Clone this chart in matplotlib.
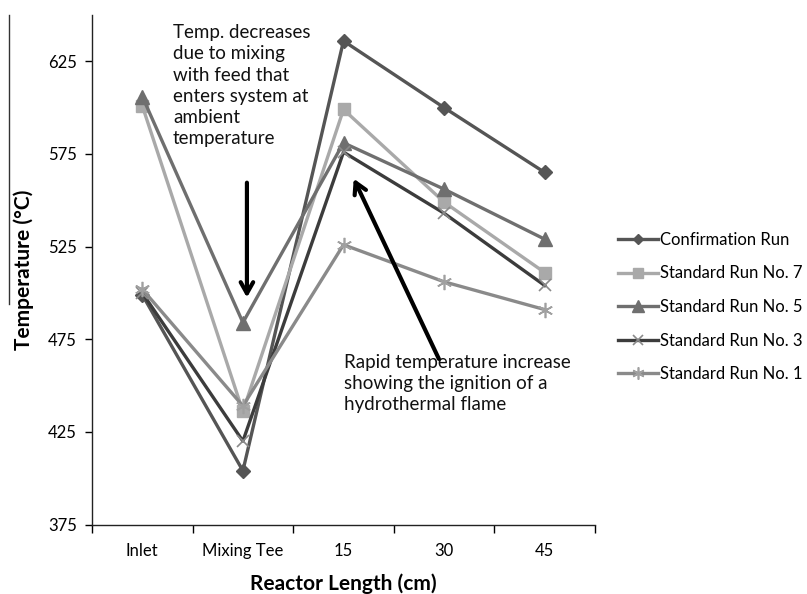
import matplotlib
matplotlib.use("Agg")
import matplotlib.pyplot as plt
from matplotlib.lines import Line2D

plt.rcParams['font.family'] = ['Lato', 'DejaVu Sans']

categories = ["Inlet", "Mixing Tee", "15", "30", "45"]
confirmation = [499, 404, 636, 600, 565]
run7 = [601, 436, 599, 549, 511]
run5 = [606, 484, 581, 556, 529]
run3 = [500, 420, 576, 543, 504]
run1 = [502, 439, 526, 506, 491]
series_names = ["Confirmation Run", "Standard Run No. 7", "Standard Run No. 5",
                "Standard Run No. 3", "Standard Run No. 1"]
yticks = [375, 425, 475, 525, 575, 625]

fig = plt.figure(figsize=(8.07, 5.94), dpi=100)
ax = fig.add_axes([92/807, 1-524.5/594, (595-92)/807, (524.5-15)/594])

x = list(range(len(categories)))
styles = [
    dict(color="#555555", marker="D", ms=7, mec="#555555", mfc="#555555", mew=1),
    dict(color="#a9a9a9", marker="s", ms=9, mec="#a9a9a9", mfc="#a9a9a9", mew=1),
    dict(color="#6f6f6f", marker="^", ms=10, mec="#6f6f6f", mfc="#6f6f6f", mew=1),
    dict(color="#3c3c3c", marker="x", ms=9, mec="#8a8a8a", mew=1.2),
    dict(color="#8a8a8a", marker=(6, 2, 0), ms=11, mec="#a0a0a0", mew=1.2),
]
for vals, name, st in zip([confirmation, run7, run5, run3, run1], series_names, styles):
    ax.plot(x, vals, lw=2.4, label=name, **st)

ax.set_xlim(-0.5, len(categories) - 0.5)
ax.set_ylim(375, 650)
ax.set_yticks(yticks)
ax.set_yticklabels([str(v) for v in yticks], fontsize=12)
ax.set_xticks([i - 0.5 for i in range(len(categories) + 1)])
ax.set_xticklabels([])
ax.set_xticks(x, minor=True)
ax.set_xticklabels(categories, minor=True, fontsize=12)
ax.tick_params(axis='x', which='major', length=6, direction='out', width=1)
ax.tick_params(axis='x', which='minor', length=0, pad=13)
ax.tick_params(axis='y', length=5, direction='out', width=1, pad=6)
for s in ['top', 'right']:
    ax.spines[s].set_visible(False)
for s in ['left', 'bottom']:
    ax.spines[s].set_color('#222222')
    ax.spines[s].set_linewidth(1.0)

ax.set_xlabel("Reactor Length (cm)", fontsize=15, fontweight='bold', labelpad=11)
ax.set_ylabel("Temperature (°C)", fontsize=15, fontweight='bold', labelpad=10)

ax.text(0.305, 645, "Temp. decreases\ndue to mixing\nwith feed that\nenters system at\nambient\ntemperature",
        fontsize=13.5, va='top', ha='left', linespacing=1.3, color='#111111')
ax.annotate("", xy=(1.04, 496), xytext=(1.04, 561),
            arrowprops=dict(arrowstyle='->,head_length=0.8,head_width=0.45', lw=3, color='black'))
ax.text(2.0, 467, "Rapid temperature increase\nshowing the ignition of a\nhydrothermal flame",
        fontsize=13.5, va='top', ha='left', linespacing=1.3, color='#111111')
ax.annotate("", xy=(2.09, 563), xytext=(2.96, 463),
            arrowprops=dict(arrowstyle='->,head_length=0.8,head_width=0.45', lw=3, color='black'))

leg = fig.legend(loc='center left', bbox_to_anchor=(603/807, 1-307/594), frameon=False,
                 fontsize=12, labelspacing=1.05, handlelength=2.4, handletextpad=0.15,
                 markerscale=0.8)

fig.add_artist(Line2D([9/807, 9/807], [1-15/594, 1-304/594], color='#333333', lw=1))

fig.savefig("out.png", dpi=100)
